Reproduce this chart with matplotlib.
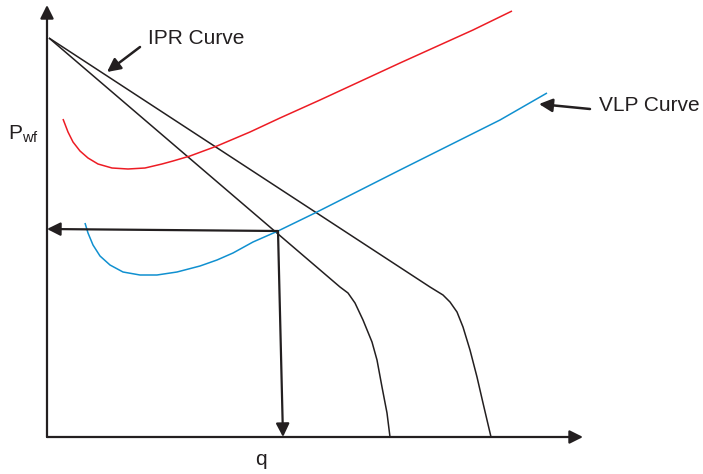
import matplotlib.pyplot as plt

plt.rcParams['font.family'] = ['Liberation Sans', 'DejaVu Sans']
plt.rcParams['mathtext.fontset'] = 'custom'
plt.rcParams['mathtext.rm'] = 'Liberation Sans'
plt.rcParams['mathtext.it'] = 'Liberation Sans:italic'

# IPR curves (q, Pwf) - two inflow curves from the same reservoir pressure
ipr1_q = [2, 293, 301, 308, 316, 325, 330, 335, 340, 343]
ipr1_p = [399, 150, 144, 134, 117, 95, 77, 50, 24, 0]
ipr2_q = [2, 383, 396, 403, 410, 416, 423, 430, 436, 444]
ipr2_p = [399, 150, 142, 135, 125, 110, 87, 60, 34, 0]

# VLP curves
vlp_red_q = [16, 21, 26, 33, 41, 51, 65, 81, 98, 115, 126, 143, 170, 203, 233, 253, 273, 353, 426, 465]
vlp_red_p = [318, 305, 295, 286, 279, 273, 269, 268, 269, 273, 276, 281, 291, 305, 319, 328, 337, 374, 407, 426]
vlp_blue_q = [38, 41, 46, 53, 63, 76, 93, 110, 130, 153, 170, 186, 206, 231, 268, 353, 453, 500]
vlp_blue_p = [214, 204, 192, 181, 172, 165, 162, 162, 165, 171, 177, 184, 195, 206, 224, 267, 317, 344]

# operating point and where its arrows land
op_q, op_p = 231, 206
op_axis_p = 208
op_axis_q = 236

black = '#231f20'
red = '#ed1c24'
blue = '#1090d0'

fig = plt.figure(figsize=(7.03, 4.74), dpi=100)
ax = fig.add_axes([0, 0, 1, 1])
ax.set_xlim(-47, 656)
ax.set_ylim(-37, 437)
ax.axis('off')

style = dict(lw=1.1, solid_joinstyle='round', solid_capstyle='butt')
ax.plot(ipr1_q, ipr1_p, color=black, **style)
ax.plot(ipr2_q, ipr2_p, color=black, **style)
ax.plot(vlp_red_q, vlp_red_p, color=red, **style)
ax.plot(vlp_blue_q, vlp_blue_p, color=blue, **style)

arrow = dict(arrowstyle='-|>', color=black, lw=1.6, mutation_scale=20, shrinkA=0, shrinkB=0)

# axes with arrow heads
ax.annotate('', xy=(0, 432), xytext=(0, 0), arrowprops=arrow)
ax.annotate('', xy=(536, 0), xytext=(0, 0), arrowprops=arrow)

# operating point arrows
ax.annotate('', xy=(0, op_axis_p), xytext=(op_q, op_p), arrowprops=arrow)
ax.annotate('', xy=(op_axis_q, 0), xytext=(op_q, op_p), arrowprops=arrow)

# labels
ax.annotate('', xy=(60, 365), xytext=(93, 390), arrowprops=dict(arrow, lw=1.8))
ax.text(101, 399, 'IPR Curve', fontsize=15, color=black, ha='left', va='center')
ax.annotate('', xy=(492, 333), xytext=(543, 328), arrowprops=dict(arrow, lw=1.8))
ax.text(552, 332, 'VLP Curve', fontsize=15, color=black, ha='left', va='center')

ax.text(-39, 297, r'P$_{\mathrm{wf}}$', fontsize=15, color=black, ha='left', va='baseline')
ax.text(208, -28, 'q', fontsize=15, color=black, ha='left', va='baseline')

fig.savefig('out.png', dpi=100)
